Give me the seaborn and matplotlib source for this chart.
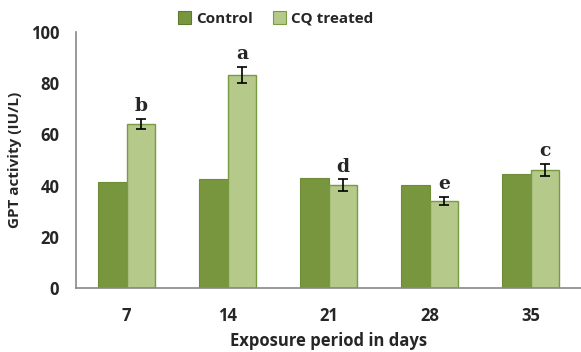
import pandas as pd
import numpy as np
import matplotlib
matplotlib.use('Agg')
import matplotlib.pyplot as plt
import seaborn as sns

days = ['7', '14', '21', '28', '35']
control = [41.5, 42.5, 43.0, 40.3, 44.7]
cq_treated = [64.2, 83.2, 40.2, 34.1, 46.1]
cq_err = [2.0, 3.3, 2.2, 1.5, 2.5]
letters = ['b', 'a', 'd', 'e', 'c']

df = pd.DataFrame({
    'dias': days * 2,
    'grupo': ['Control'] * 5 + ['CQ treated'] * 5,
    'gpt': control + cq_treated,
})

sns.set_style('white')
plt.rcParams['font.family'] = ['Open Sans', 'DejaVu Sans']

fig = plt.figure(figsize=(5.81, 3.52), dpi=100)
ax = fig.add_axes([76 / 581, 1 - 288 / 352, 505 / 581, 256 / 352])

colores = {'Control': '#78963e', 'CQ treated': '#b4c98a'}
sns.barplot(data=df, x='dias', y='gpt', hue='grupo', palette=colores,
            errorbar=None, width=0.57, saturation=1, ax=ax)

for p in ax.patches[:5]:
    p.set_edgecolor('#6f8a38')
    p.set_linewidth(0.8)
for p in ax.patches[5:10]:
    p.set_edgecolor('#7a9a44')
    p.set_linewidth(1.0)

xs = [p.get_x() + p.get_width() / 2 for p in ax.patches[5:10]]
ax.errorbar(xs, cq_treated, yerr=cq_err, fmt='none', ecolor='black',
            elinewidth=1.2, capsize=3.5, capthick=1.2)
for x, v, e, l in zip(xs, cq_treated, cq_err, letters):
    ax.text(x, v + e + 1.5, l, ha='center', va='bottom', fontsize=13.5,
            fontweight='bold', family='DejaVu Serif')

ax.set_ylim(0, 100)
ax.set_xlim(-0.5, 4.39)
ax.set_yticks([0, 20, 40, 60, 80, 100])
ax.set_xticks(np.arange(-0.5, 5, 1), minor=True)
ax.tick_params(axis='x', which='major', length=0, pad=14, labelsize=12)
ax.tick_params(axis='x', which='minor', length=4, color='#888888', direction='out')
ax.tick_params(axis='y', length=4, color='#888888', direction='out', labelsize=12, pad=8)
for lab in ax.get_xticklabels() + ax.get_yticklabels():
    lab.set_fontweight('bold')

for s in ['top', 'right']:
    ax.spines[s].set_visible(False)
for s in ['left', 'bottom']:
    ax.spines[s].set_color('#888888')
    ax.spines[s].set_linewidth(1.2)

ax.set_xlabel('Exposure period in days', fontsize=12, fontweight='bold', labelpad=5)
ax.set_ylabel('GPT activity (IU/L)', fontsize=11, fontweight='bold', labelpad=6)

leg = ax.legend(loc='upper center', bbox_to_anchor=(0.395, 1.105), ncol=2, frameon=False,
                prop={'weight': 'bold', 'size': 11}, handlelength=0.9, handleheight=0.9,
                handletextpad=0.3, columnspacing=1.3, borderaxespad=0)
for h, ec in zip(leg.legend_handles, ['#5f7a2e', '#7a9a44']):
    h.set_edgecolor(ec)
    h.set_linewidth(0.8)

fig.savefig('out.png', dpi=100)
